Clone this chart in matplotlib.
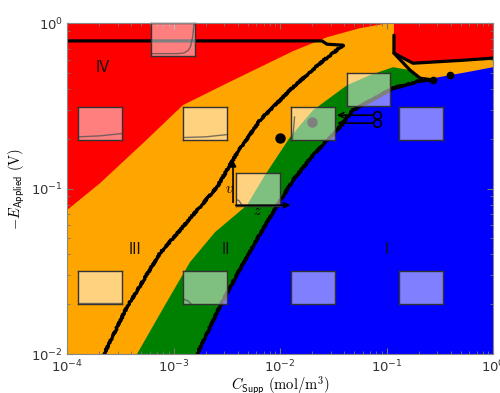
import numpy as np
import matplotlib.pyplot as plt

plt.rcParams['mathtext.fontset'] = 'cm'
plt.rcParams['font.family'] = ['DejaVu Sans']

# all boundaries as log10(C_Supp), log10(-E_Applied)
red_orange_x = [-4.0, -3.69, -3.286, -2.911, -2.498, -2.188, -1.878, -1.559, -1.249, -0.986, -0.93, -0.93, -0.751, -0.282, 0.0]
red_orange_y = [-1.13, -0.967, -0.725, -0.495, -0.363, -0.266, -0.169, -0.085, -0.03, 0.0, 0.02, -0.181, -0.242, -0.224, -0.211]

green_x = [-3.343, -3.08, -2.845, -2.61, -2.31, -2.141, -1.906, -1.69, -1.371, -1.155, -0.939, -0.779, -0.685, -0.563, -0.404, -0.263, 0.0]
green_y = [-2.0, -1.704, -1.444, -1.263, -1.1, -0.918, -0.689, -0.526, -0.375, -0.314, -0.266, -0.284, -0.332, -0.344, -0.32, -0.375, -0.435]

blue_x = [-2.779, -2.535, -2.329, -2.122, -1.878, -1.69, -1.465, -1.315, -1.089, -0.939, -0.657, -0.404, -0.244, 0.0]
blue_y = [-2.0, -1.674, -1.432, -1.202, -0.949, -0.798, -0.647, -0.526, -0.447, -0.393, -0.344, -0.314, -0.296, -0.266]

# black boundary lines
line_a_x = [-3.653, -3.437, -3.127, -2.817, -2.592, -2.404, -2.188, -2.0, -1.878, -1.624, -1.408]
line_a_y = [-2.0, -1.716, -1.39, -1.16, -0.991, -0.785, -0.586, -0.465, -0.387, -0.242, -0.133]
line_top_x = [-1.408, -1.559, -1.606, -4.0]
line_top_y = [-0.133, -0.127, -0.107, -0.107]
line_b_x = blue_x[:11] + [-0.563]
line_b_y = blue_y[:11] + [-0.344]
line_c_x = [-0.93, -0.93, -0.751, -0.282, 0.0]
line_c_y = [-0.0725, -0.181, -0.242, -0.224, -0.211]
line_d_x = [-0.93, -0.779, -0.685, -0.563]
line_d_y = [-0.181, -0.284, -0.332, -0.344]

dots_x = [-2.0, -1.70, -0.404, -0.563]
dots_y = [-0.695, -0.598, -0.314, -0.344]

# small inset boxes (centres) and their curves
box_cx = [-3.005, -3.69, -2.70, -1.69, -1.169, -0.676, -2.211, -3.69, -2.70, -1.69, -0.676]
box_cy = [-0.10, -0.607, -0.607, -0.607, -0.402, -0.607, -1.003, -1.598, -1.598, -1.598, -1.598]
curve_box1 = ([0, 0.6, 0.75, 0.85, 0.9, 0.95, 0.98], [0.08, 0.08, 0.1, 0.18, 0.3, 0.6, 1.0])
curve_box2 = ([0, 0.5, 1.0], [0.1, 0.13, 0.2])
curve_box3 = ([0, 0.5, 1.0], [0.08, 0.1, 0.17])
curve_box4 = ([0.03, 0.06, 0.08], [0.0, 0.35, 0.7])
curve_box7 = ([0.0, 0.08, 0.15], [0.2, 0.15, 0.0])
curve_box8 = ([0.0, 1.0], [0.02, 0.02])
curve_box9 = ([0.0, 0.1, 0.18], [0.15, 0.1, 0.0])
box_curves = {0: curve_box1, 1: curve_box2, 2: curve_box3, 3: curve_box4,
              6: curve_box7, 7: curve_box8, 8: curve_box9}

region_labels = ['IV', 'III', 'II', 'I']
label_x = [-3.66, -3.36, -2.51, -1.0]
label_y = [-0.266, -1.366, -1.366, -1.366]

P = lambda v: 10 ** np.asarray(v, dtype=float)

fig = plt.figure(figsize=(5, 3.93), dpi=100)
ax = fig.add_axes([0.134, 0.099, 0.852, 0.842])
ax.set_xscale('log')
ax.set_yscale('log')

# regions
ax.fill(P([-4.1, 0.1, 0.1, -4.1]), P([-2.1, -2.1, 0.1, 0.1]), color='red', lw=0, zorder=1)
ax.fill(P(red_orange_x + [0.1, -4.1]), P(red_orange_y + [-2.1, -2.1]), color='orange', lw=0, zorder=1)
ax.fill(P(green_x + [0.1, -3.343]), P(green_y + [-2.1, -2.1]), color='green', lw=0, zorder=1)
ax.fill(P(blue_x + [0.1, -2.779]), P(blue_y + [-2.1, -2.1]), color='blue', lw=0, zorder=1)

for lx, ly, jag in [(line_a_x, line_a_y, True), (line_b_x, line_b_y, True),
                    (line_top_x, line_top_y, False),
                    (line_c_x, line_c_y, False), (line_d_x, line_d_y, False)]:
    ln, = ax.plot(P(lx), P(ly), color='k', lw=2.3, solid_capstyle='round',
                  solid_joinstyle='round', zorder=2)
    if jag:
        ln.set_sketch_params(scale=0.8, length=2.5, randomness=2)

ax.plot(P(dots_x[:2]), P(dots_y[:2]), 'o', color='k', ms=6.5, zorder=3)
ax.plot(P(dots_x[2:]), P(dots_y[2:]), 'o', color='k', ms=4.5, zorder=3)

# inset boxes
bw, bh = 0.413, 0.2
for i, (cx, cy) in enumerate(zip(box_cx, box_cy)):
    x0 = 10 ** (cx - bw / 2)
    y0 = 10 ** (cy - bh / 2)
    iax = ax.inset_axes([x0, y0, 10 ** (cx + bw / 2) - x0, 10 ** (cy + bh / 2) - y0],
                        transform=ax.transData, zorder=4)
    iax.set_facecolor((1, 1, 1, 0.5))
    for s in iax.spines.values():
        s.set_color('#333333')
        s.set_linewidth(1)
    iax.set_xticks([])
    iax.set_yticks([])
    iax.set_xlim(0, 1)
    iax.set_ylim(0, 1)
    if i in box_curves:
        cxs, cys = box_curves[i]
        iax.plot(cxs, cys, color='#555555', lw=1, alpha=0.8)

# arrows
ax.annotate('', xy=P([-2.441, -0.81]), xytext=P([-2.441, -1.10]),
            arrowprops=dict(arrowstyle='-|>', color='k', lw=1.2, mutation_scale=9), zorder=6)
ax.annotate('', xy=P([-1.875, -1.10]), xytext=P([-2.441, -1.10]),
            arrowprops=dict(arrowstyle='-|>', color='k', lw=1.2, mutation_scale=9), zorder=6)
for yy in [-0.556, -0.604]:
    ax.annotate('', xy=P([-1.465, yy]), xytext=P([-1.089, yy]),
                arrowprops=dict(arrowstyle='->', color='k', lw=1.2, mutation_scale=9,
                                shrinkA=3, shrinkB=0), zorder=6)
    ax.plot(P([-1.089]), P([yy]), 'o', mfc='none', mec='k', mew=1.2, ms=5.5, zorder=6)

ax.text(*P([-2.479, -0.997]), r'$v$', fontsize=10.5, ha='center', va='center', zorder=6)
ax.text(*P([-2.216, -1.13]), r'$z$', fontsize=10.5, ha='center', va='center', zorder=6)

for t, lx, ly in zip(region_labels, label_x, label_y):
    ax.text(10 ** lx, 10 ** ly, t, fontsize=10.5, ha='center', va='center', color='#111111', zorder=6)

ax.set_xlim(1e-4, 1)
ax.set_ylim(1e-2, 1)
ax.set_xlabel(r'$C_{\mathsf{Supp}}\ (\mathrm{mol/m^3})$', fontsize=10.5, labelpad=0)
ax.set_ylabel(r'$-E_{\mathsf{Applied}}\ (\mathrm{V})$', fontsize=10.5, labelpad=3)
ax.tick_params(which='both', direction='in', top=True, right=True, color='#777777',
               labelsize=9.5, labelcolor='#333333')
ax.tick_params(which='major', length=4, pad=3)
ax.tick_params(which='minor', length=2)
for s in ax.spines.values():
    s.set_color('#888888')
    s.set_zorder(7)

fig.savefig('out.png', dpi=100)
